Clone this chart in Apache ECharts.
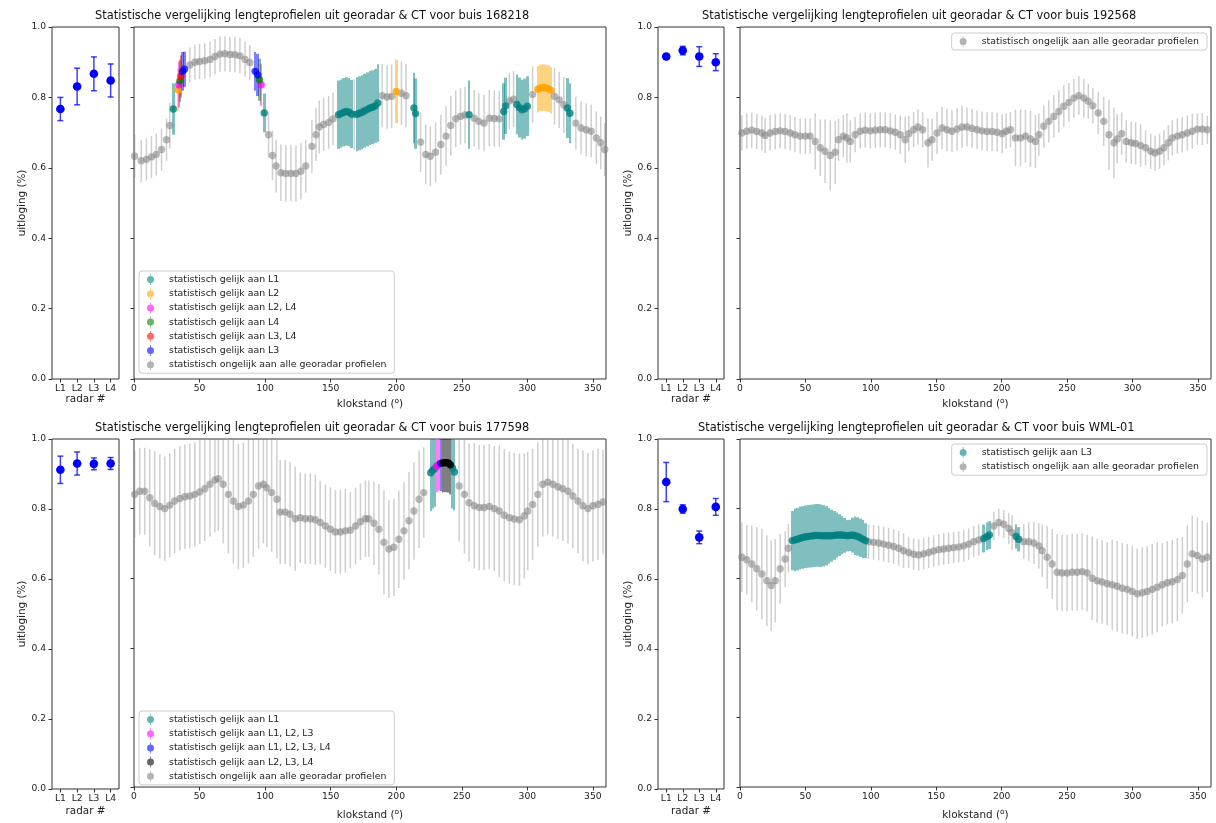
<!DOCTYPE html>
<html><head><meta charset="utf-8">
<script src="https://cdn.jsdelivr.net/npm/echarts@6/dist/echarts.min.js"></script>
<style>html,body{margin:0;padding:0;background:#fff}#c{width:1216px;height:823px}</style>
</head><body><div id="c"></div><script>
const FONT = 'DejaVu Sans';

// ---- radar (small panels) ----
const radarLabels = ['L1', 'L2', 'L3', 'L4'];
const radar_168218 = [0.767, 0.831, 0.867, 0.848];
const radarErr_168218 = [0.033, 0.052, 0.048, 0.047];
const radar_192568 = [0.916, 0.933, 0.916, 0.900];
const radarErr_192568 = [0.008, 0.012, 0.028, 0.024];
const radar_177598 = [0.912, 0.930, 0.929, 0.930];
const radarErr_177598 = [0.039, 0.033, 0.017, 0.017];
const radar_WML01 = [0.877, 0.800, 0.719, 0.806];
const radarErr_WML01 = [0.056, 0.012, 0.018, 0.024];

// ---- clock-position profiles: [klokstand, uitloging, fout] ----
const p168218_none = [[0.5,0.633,0.06],[5.5,0.62,0.06],[9.5,0.624,0.06],[13.3,0.631,0.06],[17,0.638,0.06],[21,0.652,0.06],[24.8,0.68,0.06],[27.3,0.72,0.065],
[42.6,0.892,0.05],[46.4,0.9,0.05],[50,0.902,0.05],[54,0.904,0.05],[58,0.908,0.05],[61.8,0.916,0.05],[65.6,0.923,0.05],[69.4,0.924,0.05],[73.2,0.922,0.05],[77,0.921,0.05],[80.8,0.918,0.05],[84.7,0.908,0.05],[88.3,0.899,0.05],
[102.6,0.694,0.065],[105.6,0.635,0.07],[108.4,0.605,0.075],[112,0.586,0.08],[115.8,0.584,0.08],[119.7,0.584,0.08],[123.5,0.584,0.08],[127.3,0.59,0.08],[131,0.605,0.075],[135.7,0.661,0.075],[138.8,0.694,0.075],[141.3,0.716,0.075],[144.6,0.723,0.075],[148.5,0.729,0.075],[151.8,0.739,0.075],
[168,0.751,0.1],
[189.3,0.805,0.09],[193,0.801,0.09],[196.5,0.803,0.09],[204,0.812,0.09],[207.5,0.805,0.09],
[218.6,0.673,0.085],[222.5,0.638,0.085],[226,0.633,0.085],[230,0.644,0.085],[234,0.666,0.085],[238,0.69,0.085],[241.6,0.72,0.085],[245.4,0.739,0.08],[249,0.746,0.08],[252.5,0.75,0.08],
[259.5,0.741,0.08],[263,0.732,0.08],[267,0.727,0.08],[271,0.741,0.08],[274.8,0.74,0.08],[278.6,0.739,0.08],
[286.3,0.79,0.08],[289.5,0.795,0.08],[304,0.808,0.08],
[320.7,0.803,0.08],[324.3,0.793,0.08],[327.8,0.779,0.08],
[337,0.727,0.075],[341,0.713,0.075],[344.9,0.708,0.075],[348.7,0.704,0.075],[352.6,0.685,0.075],[356,0.671,0.075],[359,0.652,0.075]];
const p168218_L1 = [[30,0.767,0.073],[99.3,0.756,0.055],
[156,0.751,0.097],[158,0.754,0.097],[160,0.758,0.097],[162,0.76,0.097],[164,0.758,0.097],[166,0.753,0.097],
[170,0.752,0.105],[172,0.755,0.105],[174,0.758,0.105],[176,0.762,0.105],[178,0.766,0.105],[180,0.77,0.105],[182,0.772,0.105],[184,0.776,0.105],[186,0.784,0.11],
[213.5,0.77,0.1],[214.8,0.754,0.1],[255.6,0.751,0.097],[282,0.76,0.08],[283.5,0.776,0.08],
[292,0.78,0.085],[294,0.771,0.085],[296,0.765,0.085],[298,0.768,0.085],[300,0.775,0.085],
[330.5,0.77,0.085],[332.5,0.755,0.085]];
const p168218_L2 = [[33.5,0.822,0.06],[200,0.817,0.09],[308,0.823,0.066],[310,0.827,0.066],[312,0.828,0.066],[314,0.827,0.066],[316,0.825,0.066],[318,0.82,0.066]];
const p168218_L2L4 = [[34.2,0.836,0.065],[97,0.836,0.06]];
const p168218_L4 = [[35,0.847,0.06],[95.7,0.85,0.06]];
const p168218_L3L4 = [[35.8,0.86,0.06]];
const p168218_L3 = [[37,0.874,0.055],[38.5,0.88,0.05],[92.4,0.874,0.055],[94.4,0.864,0.06]];

const p192568_none = [[1.4,0.699,0.05],[5.2,0.704,0.05],[9,0.707,0.05],[12.8,0.703,0.05],[16.7,0.699,0.05],[19.2,0.692,0.05],[23,0.699,0.05],[27,0.703,0.05],[30.7,0.705,0.05],[34.5,0.703,0.05],[38.4,0.699,0.05],[42,0.694,0.05],[46,0.69,0.05],[50,0.69,0.05],[53.6,0.69,0.05],[57.5,0.675,0.08],[61.3,0.657,0.08],[65,0.647,0.09],[69,0.635,0.1],[72.8,0.644,0.09],[75.3,0.68,0.06],[79,0.69,0.06],[81.7,0.685,0.07],[84.3,0.675,0.06],[88,0.694,0.05],[91.9,0.704,0.05],[95.7,0.707,0.05],[99.6,0.705,0.05],[103.4,0.707,0.05],[107.2,0.708,0.05],[111,0.708,0.05],[114.9,0.705,0.05],[118.7,0.701,0.05],[122.5,0.694,0.055],[126.3,0.68,0.065],[129,0.697,0.05],[132.7,0.708,0.05],[136,0.716,0.05],[139.6,0.708,0.05],[143.7,0.671,0.07],[146.8,0.68,0.06],[150.6,0.699,0.06],[154.4,0.713,0.06],[158.2,0.708,0.06],[162,0.704,0.06],[165.9,0.71,0.06],[169.7,0.716,0.06],[173.5,0.716,0.055],[177.4,0.712,0.055],[181.2,0.708,0.055],[185,0.705,0.055],[188.8,0.703,0.055],[192.7,0.703,0.055],[196.5,0.701,0.055],[200.4,0.697,0.055],[203.4,0.704,0.05],[206.7,0.708,0.05],[210.5,0.685,0.08],[214.4,0.685,0.08],[218.2,0.69,0.075],[222,0.682,0.08],[225.8,0.675,0.075],[228.4,0.694,0.06],[232.2,0.718,0.06],[236,0.732,0.06],[239.9,0.746,0.06],[243.7,0.76,0.06],[247.5,0.775,0.06],[251.4,0.786,0.055],[255.2,0.798,0.055],[259,0.805,0.055],[262.8,0.798,0.055],[266.2,0.789,0.05],[269.7,0.776,0.05],[273.8,0.756,0.06],[278,0.732,0.07],[282,0.694,0.1],[285.8,0.671,0.1],[288.3,0.682,0.07],[291.7,0.697,0.06],[295.2,0.675,0.06],[299,0.671,0.06],[302.4,0.669,0.06],[306.2,0.663,0.06],[310,0.657,0.05],[313.9,0.647,0.05],[317.2,0.642,0.05],[320.7,0.647,0.05],[324,0.657,0.05],[327.4,0.671,0.05],[330.4,0.685,0.05],[334.3,0.69,0.05],[338,0.694,0.05],[341.9,0.699,0.05],[345.7,0.704,0.05],[349.6,0.71,0.045],[353.4,0.71,0.045],[357.2,0.708,0.04]];

const p177598_none = [[0.5,0.841,0.125],[4.4,0.85,0.125],[8.2,0.85,0.125],[12,0.831,0.14],[15.8,0.815,0.15],[19.7,0.806,0.15],[23.5,0.8,0.15],[27.3,0.81,0.15],[31,0.822,0.15],[35,0.829,0.15],[38.8,0.834,0.15],[42.6,0.836,0.15],[46.4,0.841,0.15],[50.2,0.848,0.15],[54,0.857,0.15],[57.9,0.87,0.15],[61.7,0.882,0.15],[64.3,0.886,0.15],[68,0.87,0.17],[72,0.841,0.17],[75.8,0.822,0.18],[79.6,0.806,0.18],[83.4,0.81,0.18],[87.3,0.822,0.18],[91,0.841,0.18],[95,0.865,0.18],[98.7,0.87,0.17],[101.3,0.86,0.17],[105,0.846,0.17],[109,0.827,0.17],[111.5,0.79,0.15],[115.3,0.79,0.15],[119,0.784,0.15],[123,0.771,0.15],[126.8,0.774,0.13],[130.6,0.771,0.13],[134.5,0.771,0.13],[138.3,0.768,0.13],[142,0.76,0.12],[146,0.75,0.12],[149.8,0.741,0.12],[153.6,0.733,0.12],[157.4,0.733,0.12],[161.2,0.736,0.12],[165,0.738,0.11],[169,0.75,0.11],[172.7,0.762,0.11],[176.5,0.771,0.11],[179,0.771,0.11],[183,0.758,0.12],[186.8,0.741,0.13],[190.6,0.703,0.15],[194.4,0.684,0.14],[198.2,0.689,0.14],[202,0.712,0.14],[205.9,0.736,0.14],[209.7,0.765,0.14],[213.5,0.793,0.14],[217.4,0.827,0.14],[221,0.846,0.13],
[248,0.865,0.16],[252,0.841,0.17],[255.6,0.817,0.17],[259.5,0.808,0.18],[263.3,0.803,0.18],[267,0.803,0.18],[271,0.806,0.18],[274.8,0.8,0.18],[278.6,0.793,0.19],[282.4,0.781,0.19],[286.3,0.774,0.19],[290,0.77,0.19],[294,0.768,0.19],[297.7,0.779,0.18],[300.3,0.793,0.17],[304,0.812,0.16],[308,0.841,0.15],[311.8,0.87,0.15],[315.6,0.876,0.15],[319.4,0.87,0.15],[323.3,0.863,0.15],[327,0.857,0.15],[331,0.85,0.15],[334.7,0.836,0.15],[338.6,0.822,0.15],[342.4,0.808,0.16],[346.2,0.8,0.16],[350,0.808,0.16],[353.9,0.812,0.16],[357.7,0.819,0.15]];
const p177598_L1 = [[226.3,0.903,0.11],[227.8,0.91,0.11],[229.3,0.915,0.11],[242.9,0.917,0.117],[244.4,0.905,0.11]];
const p177598_L1L2L3 = [[230.8,0.922,0.075],[232.3,0.926,0.075]];
const p177598_L1L2L3L4 = [[233.8,0.93,0.08]];
const p177598_L2L3L4 = [[235.3,0.931,0.085],[236.8,0.932,0.085],[238.3,0.932,0.085],[239.8,0.931,0.085],[241.3,0.926,0.085]];

const pWML01_none = [[1.4,0.66,0.1],[5.2,0.653,0.1],[9,0.641,0.11],[12.8,0.627,0.12],[16.7,0.612,0.13],[20.5,0.593,0.13],[23.8,0.579,0.13],[26.9,0.593,0.12],[30.7,0.627,0.1],[34.5,0.655,0.08],[37,0.686,0.07],
[98.3,0.705,0.05],[102.1,0.703,0.05],[106,0.701,0.05],[109.8,0.698,0.05],[113.6,0.695,0.05],[117.4,0.691,0.05],[121.3,0.686,0.05],[125,0.679,0.05],[128.9,0.674,0.045],[132.7,0.669,0.045],[136.6,0.667,0.045],[140.4,0.67,0.045],[144.2,0.674,0.045],[148,0.678,0.045],[151.9,0.682,0.045],[155.7,0.684,0.045],[159.5,0.686,0.045],[163.3,0.688,0.045],[167.2,0.69,0.045],[171,0.693,0.045],[174.8,0.698,0.045],[178.6,0.705,0.045],[182.5,0.71,0.045],
[194,0.75,0.04],[197.8,0.76,0.04],[201.6,0.755,0.04],[205.4,0.743,0.045],[208,0.731,0.05],
[216.9,0.705,0.05],[220.7,0.705,0.055],[224.6,0.701,0.06],[228.4,0.693,0.065],[231,0.679,0.075],[234.8,0.66,0.09],[238.6,0.641,0.1],[242.4,0.617,0.11],[246.2,0.615,0.11],[250,0.615,0.11],[253.9,0.617,0.11],[257.7,0.617,0.11],[261.5,0.619,0.11],[265.4,0.615,0.11],[269.2,0.6,0.12],[273,0.593,0.12],[276.8,0.589,0.12],[280.7,0.584,0.12],[284.5,0.581,0.13],[288.3,0.577,0.13],[292.2,0.571,0.13],[296,0.568,0.13],[299.8,0.562,0.13],[303.6,0.555,0.13],[307.5,0.558,0.13],[311.3,0.562,0.13],[315.1,0.568,0.13],[318.9,0.574,0.13],[322.8,0.581,0.12],[326.6,0.587,0.12],[330.4,0.59,0.12],[334.3,0.596,0.12],[338.1,0.608,0.11],[341.9,0.641,0.11],[345.7,0.67,0.11],[349.6,0.665,0.11],[353.4,0.655,0.11],[357.2,0.66,0.1]];
const pWML01_L3 = [[40,0.708,0.085],[42,0.71,0.09],[44,0.712,0.09],[46,0.715,0.09],[48,0.717,0.09],[50,0.719,0.09],[52,0.72,0.09],[54,0.721,0.09],[56,0.722,0.09],[58,0.723,0.09],[60,0.723,0.09],[62,0.722,0.09],[64,0.722,0.088],[66,0.722,0.085],[68,0.722,0.08],[70,0.722,0.075],[72,0.723,0.07],[74,0.724,0.065],[76,0.724,0.06],[78,0.724,0.055],[80,0.723,0.05],[82,0.722,0.045],[84,0.723,0.045],[86,0.724,0.05],[88,0.722,0.055],[90,0.72,0.055],[92,0.716,0.055],[94,0.712,0.055],[96,0.708,0.05],
[186.3,0.714,0.04],[188.8,0.72,0.04],[190.6,0.724,0.04],[211,0.72,0.035],[213,0.712,0.035]];

// ---- styling ----
const NAME = {
  L1: 'statistisch gelijk aan L1', L2: 'statistisch gelijk aan L2', L2L4: 'statistisch gelijk aan L2, L4',
  L4: 'statistisch gelijk aan L4', L3L4: 'statistisch gelijk aan L3, L4', L3: 'statistisch gelijk aan L3',
  L1L2L3: 'statistisch gelijk aan L1, L2, L3', L1L2L3L4: 'statistisch gelijk aan L1, L2, L3, L4',
  L2L3L4: 'statistisch gelijk aan L2, L3, L4', none: 'statistisch ongelijk aan alle georadar profielen'
};
const RGB = { teal:'0,128,128', orange:'255,165,0', magenta:'255,0,255', green:'0,128,0', red:'255,0,0', blue:'0,0,255', black:'0,0,0', gray:'128,128,128' };
const PT_A = { teal:0.8, orange:0.85, magenta:0.75, green:0.75, red:0.7, blue:0.75, black:0.85, gray:0.55 };
const BAR_A = { teal:0.5, orange:0.5, magenta:0.5, green:0.5, red:0.5, blue:0.5, black:0.5, gray:0.38 };

const W = 1216;
const panels = [
  { title: 'Statistische vergelijking lengteprofielen uit georadar & CT voor buis 168218', titlePos: [95, 11],
    small: { left: 52, top: 27, width: 67, height: 352 }, big: { left: 134, top: 27, width: 472, height: 352 },
    radar: radar_168218, radarErr: radarErr_168218, bandDeg: 2, gaps: [10, 18],
    groups: [['L1', p168218_L1, 'teal'], ['L2', p168218_L2, 'orange'], ['L2L4', p168218_L2L4, 'magenta'], ['L4', p168218_L4, 'green'], ['L3L4', p168218_L3L4, 'red'], ['L3', p168218_L3, 'blue'], ['none', p168218_none, 'gray']],
    legendPos: { left: 139, top: 271 } },
  { title: 'Statistische vergelijking lengteprofielen uit georadar & CT voor buis 192568', titlePos: [702, 11],
    small: { left: 658, top: 27, width: 66, height: 352 }, big: { left: 740, top: 27, width: 471, height: 352 },
    radar: radar_192568, radarErr: radarErr_192568, bandDeg: 2, gaps: [10, 18],
    groups: [['none', p192568_none, 'gray']],
    legendPos: { right: W - 1207, top: 33 } },
  { title: 'Statistische vergelijking lengteprofielen uit georadar & CT voor buis 177598', titlePos: [95, 423],
    small: { left: 52, top: 439, width: 67, height: 350 }, big: { left: 134, top: 439, width: 472, height: 350 },
    radar: radar_177598, radarErr: radarErr_177598, bandDeg: 1.5, gaps: [17, 21],
    groups: [['L1', p177598_L1, 'teal'], ['L1L2L3', p177598_L1L2L3, 'magenta'], ['L1L2L3L4', p177598_L1L2L3L4, 'blue'], ['L2L3L4', p177598_L2L3L4, 'black'], ['none', p177598_none, 'gray']],
    legendPos: { left: 139, top: 711 } },
  { title: 'Statistische vergelijking lengteprofielen uit georadar & CT voor buis WML-01', titlePos: [698, 423],
    small: { left: 658, top: 439, width: 66, height: 350 }, big: { left: 740, top: 439, width: 471, height: 350 },
    radar: radar_WML01, radarErr: radarErr_WML01, bandDeg: 2, gaps: [17, 21],
    groups: [['L3', pWML01_L3, 'teal'], ['none', pWML01_none, 'gray']],
    legendPos: { right: W - 1207, top: 444 } }
];

const ICON = 'path://M3.1,0 L3.9,0 L3.9,11 L3.1,11 Z M0,5.5 A3.5,3.5 0 1,1 7,5.5 A3.5,3.5 0 1,1 0,5.5 Z';

function barRender(color, widthDeg, fixedPx) {
  return function (params, api) {
    const x = api.value(0), y = api.value(1), e = api.value(2);
    const cs = params.coordSys;
    const hi = api.coord([x, y + e]), lo = api.coord([x, y - e]);
    const top = Math.max(hi[1], cs.y), bot = Math.min(lo[1], cs.y + cs.height);
    let x0, x1;
    if (fixedPx) { x0 = hi[0] - fixedPx / 2; x1 = hi[0] + fixedPx / 2; }
    else { const w = api.size([widthDeg, 0])[0]; x0 = Math.round(hi[0] - w / 2); x1 = Math.round(hi[0] + w / 2); }
    return { type: 'rect', shape: { x: x0, y: top, width: x1 - x0, height: Math.max(0, bot - top) },
      style: { fill: color, stroke: null, lineWidth: 0 } };
  };
}
function pointRender(color, r) {
  return function (params, api) {
    const c = api.coord([api.value(0), api.value(1)]);
    return { type: 'circle', shape: { cx: c[0], cy: c[1], r: r }, style: { fill: color, stroke: null, lineWidth: 0 } };
  };
}
function radarRender(params, api) {
  const i = api.value(0), v = api.value(1), e = api.value(2);
  const c = api.coord([i, v]), hi = api.coord([i, v + e]), lo = api.coord([i, v - e]);
  const lc = 'rgba(0,0,255,0.75)';
  return { type: 'group', children: [
    { type: 'line', shape: { x1: c[0], y1: hi[1], x2: c[0], y2: lo[1] }, style: { stroke: lc, lineWidth: 1.5 } },
    { type: 'line', shape: { x1: c[0] - 3, y1: hi[1], x2: c[0] + 3, y2: hi[1] }, style: { stroke: lc, lineWidth: 1.5 } },
    { type: 'line', shape: { x1: c[0] - 3, y1: lo[1], x2: c[0] + 3, y2: lo[1] }, style: { stroke: lc, lineWidth: 1.5 } },
    { type: 'circle', shape: { cx: c[0], cy: c[1], r: 4.3 }, style: { fill: '#0000ff' } }
  ] };
}

const grids = [], xAxes = [], yAxes = [], series = [], legends = [], titles = [];
const tickStyle = { show: true, length: 3.5, lineStyle: { color: '#333', width: 1 } };
const labStyle = { fontSize: 9.2, color: '#222', fontFamily: FONT };
const nameStyle = { fontSize: 10.4, color: '#222', fontFamily: FONT };

panels.forEach((p, k) => {
  const gs = grids.length;
  grids.push(Object.assign({ show: true, borderColor: '#333', borderWidth: 1, backgroundColor: 'transparent' }, p.small));
  grids.push(Object.assign({ show: true, borderColor: '#333', borderWidth: 1, backgroundColor: 'transparent' }, p.big));
  xAxes.push({ gridIndex: gs, type: 'category', data: radarLabels, boundaryGap: true,
    axisLine: { show: false }, axisTick: Object.assign({ alignWithLabel: true }, tickStyle),
    axisLabel: Object.assign({ margin: 5 }, labStyle),
    name: 'radar #', nameLocation: 'middle', nameGap: p.gaps[0], nameTextStyle: nameStyle });
  xAxes.push({ gridIndex: gs + 1, type: 'value', min: 0, max: 360, interval: 50,
    axisLine: { show: false }, axisTick: tickStyle, splitLine: { show: false },
    axisLabel: Object.assign({ margin: 5, showMaxLabel: false }, labStyle),
    name: 'klokstand ({s|o})', nameLocation: 'middle', nameGap: p.gaps[1],
    nameTextStyle: Object.assign({ lineHeight: 14, rich: { s: { fontSize: 7.5, fontFamily: FONT, color: '#222', verticalAlign: 'top', lineHeight: 14, padding: [0, 0, 5, 0] } } }, nameStyle) });
  yAxes.push({ gridIndex: gs, type: 'value', min: 0, max: 1, interval: 0.2,
    axisLine: { show: false }, axisTick: tickStyle, splitLine: { show: false },
    axisLabel: Object.assign({ margin: 6, formatter: v => v.toFixed(1) }, labStyle),
    name: 'uitloging (%)', nameLocation: 'middle', nameGap: 24, nameRotate: 90, nameTextStyle: nameStyle });
  yAxes.push({ gridIndex: gs + 1, type: 'value', min: 0, max: 1, interval: 0.2,
    axisLine: { show: false }, axisTick: tickStyle, splitLine: { show: false }, axisLabel: { show: false } });

  series.push({ type: 'custom', xAxisIndex: gs, yAxisIndex: gs, renderItem: radarRender,
    encode: { x: 0, y: 1 }, data: p.radar.map((v, i) => [i, v, p.radarErr[i]]), z: 3, silent: true });

  // gray first, then coloured
  const order = p.groups.filter(g => g[0] === 'none').concat(p.groups.filter(g => g[0] !== 'none'));
  order.forEach(([key, data, col]) => {
    const isGray = key === 'none';
    series.push({ type: 'custom', xAxisIndex: gs + 1, yAxisIndex: gs + 1, silent: true, z: isGray ? 1 : 2,
      renderItem: barRender('rgba(' + RGB[col] + ',' + BAR_A[col] + ')', p.bandDeg, isGray ? 1.5 : 0),
      encode: { x: 0, y: 1 }, data: data });
  });
  order.forEach(([key, data, col]) => {
    const isGray = key === 'none';
    series.push({ type: 'custom', name: NAME[key], xAxisIndex: gs + 1, yAxisIndex: gs + 1, silent: true, z: isGray ? 3 : 4,
      itemStyle: { color: 'rgba(' + RGB[col] + ',0.6)' },
      renderItem: pointRender('rgba(' + RGB[col] + ',' + PT_A[col] + ')', 3.7),
      encode: { x: 0, y: 1 }, data: data });
  });

  legends.push(Object.assign({
    orient: 'vertical', itemWidth: 7, itemHeight: 11, itemGap: 3.2, padding: [3, 8, 3, 8],
    borderColor: '#cccccc', borderWidth: 1, borderRadius: 3, backgroundColor: 'rgba(255,255,255,0.8)',
    selectedMode: false,
    textStyle: { fontSize: 9.4, color: '#222', fontFamily: FONT, padding: [0, 0, 0, 10] },
    data: p.groups.map(([key, data, col]) => ({ name: NAME[key], icon: ICON, itemStyle: { color: 'rgba(' + RGB[col] + ',0.6)' } }))
  }, p.legendPos));

  titles.push({ text: p.title, left: p.titlePos[0], top: p.titlePos[1], padding: 0,
    textStyle: { fontSize: 11.4, fontWeight: 'normal', color: '#111', fontFamily: FONT } });
});

const chart = echarts.init(document.getElementById('c'));
chart.setOption({
  animation: false,
  backgroundColor: '#fff',
  title: titles,
  grid: grids,
  xAxis: xAxes,
  yAxis: yAxes,
  legend: legends,
  series: series
});
</script></body></html>
